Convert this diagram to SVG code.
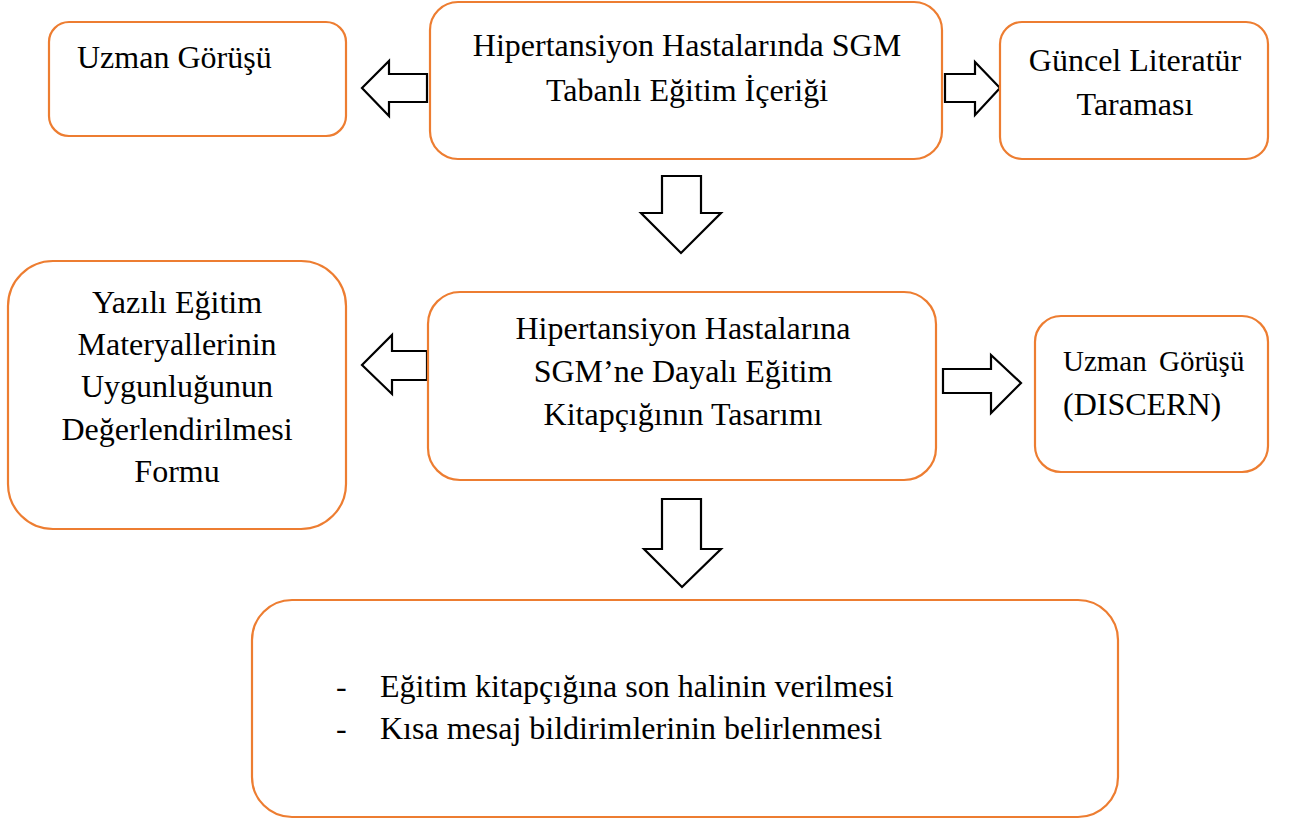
<svg xmlns="http://www.w3.org/2000/svg" width="1315" height="820" viewBox="0 0 1315 820">
<style>
.box{fill:#fff;stroke:#ED7D31;stroke-width:2.2}
.arr{fill:#fff;stroke:#000;stroke-width:2.2;stroke-linejoin:miter}
.t{font-family:'Liberation Serif',serif;font-size:32px;fill:#000}
.c{text-anchor:middle}
</style>
<rect width="1315" height="820" fill="#fff"/>
<g id="connectors">
<polygon class="arr" points="427,74 389,74 389,61 362,88 389,116 389,102 427,102"/>
<polygon class="arr" points="945,74 975,74 975,62 1000,88 975,115 975,102 945,102"/>
<polygon class="arr" points="662,176 701,176 701,213 721,213 681,253 641,213 662,213"/>
<polygon class="arr" points="427,351 392,351 392,335 362,365 392,394 392,380 427,380"/>
<polygon class="arr" points="943,369 991,369 991,355 1021,383 991,413 991,393 943,393"/>
<polygon class="arr" points="662,499 701,499 701,549 721,549 682,587 644,549 662,549"/>
</g>
<g id="n1">
<rect class="box" x="49" y="22" width="297" height="114" rx="20"/>
<text class="t" x="77" y="68">Uzman Görüşü</text>
</g>
<g id="n2">
<rect class="box" x="430" y="2" width="512" height="157" rx="28"/>
<text class="t c" x="687" y="56">Hipertansiyon Hastalarında SGM</text>
<text class="t c" x="687" y="101">Tabanlı Eğitim İçeriği</text>
</g>
<g id="n3">
<rect class="box" x="1000" y="22" width="268" height="137" rx="22"/>
<text class="t c" x="1135" y="71">Güncel Literatür</text>
<text class="t c" x="1135" y="115">Taraması</text>
</g>
<g id="n4">
<rect class="box" x="8" y="261" width="338" height="268" rx="45"/>
<text class="t c" x="177" y="313">Yazılı Eğitim</text>
<text class="t c" x="177" y="355">Materyallerinin</text>
<text class="t c" x="177" y="397">Uygunluğunun</text>
<text class="t c" x="177" y="440">Değerlendirilmesi</text>
<text class="t c" x="177" y="482">Formu</text>
</g>
<g id="n5">
<rect class="box" x="428" y="292" width="508" height="188" rx="32"/>
<text class="t c" x="683" y="339">Hipertansiyon Hastalarına</text>
<text class="t c" x="683" y="382">SGM’ne Dayalı Eğitim</text>
<text class="t c" x="683" y="425">Kitapçığının Tasarımı</text>
</g>
<g id="n6">
<rect class="box" x="1035" y="316" width="233" height="156" rx="26"/>
<text class="t" x="1063" y="371" style="font-size:29px;word-spacing:5px">Uzman Görüşü</text>
<text class="t" x="1063" y="415">(DISCERN)</text>
</g>
<g id="n7">
<rect class="box" x="252" y="600" width="866" height="217" rx="40"/>
<text class="t" x="336" y="697">-</text>
<text class="t" x="380" y="697">Eğitim kitapçığına son halinin verilmesi</text>
<text class="t" x="336" y="739">-</text>
<text class="t" x="380" y="739">Kısa mesaj bildirimlerinin belirlenmesi</text>
</g>
</svg>
